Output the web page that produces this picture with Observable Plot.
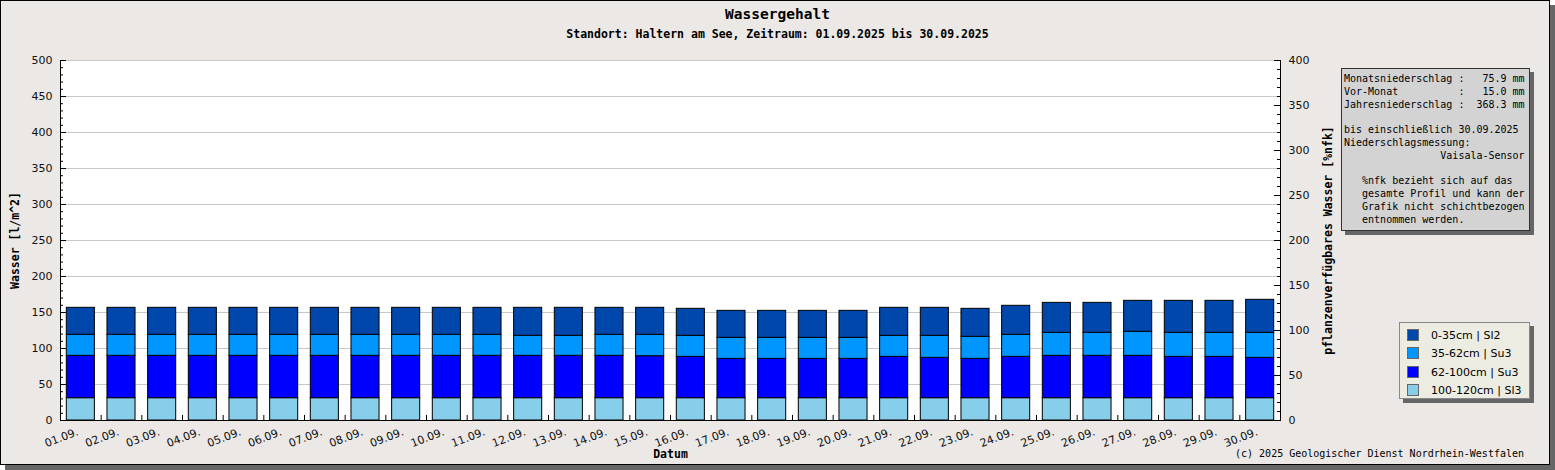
<!DOCTYPE html>
<html><head><meta charset="utf-8">
<script src="https://cdn.jsdelivr.net/npm/d3@7"></script>
<script src="https://cdn.jsdelivr.net/npm/@observablehq/plot@0.6"></script>
<style>
body{margin:0;background:#fff;}
#wrap{position:relative;width:1555px;height:470px;overflow:hidden;}
#bg{position:absolute;left:0;top:0;width:1548px;height:463px;border:1px solid #000;background:#ebe8e6;box-shadow:5px 5px 0 #666;}
#chart{position:absolute;left:0;top:0;}
.mono{font-family:"DejaVu Sans Mono",monospace;color:#000;position:absolute;white-space:pre;}
#title{left:0;width:1555px;text-align:center;top:6px;font-size:14.5px;font-weight:bold;}
#subtitle{left:0;width:1555px;text-align:center;top:27px;font-size:11.5px;font-weight:bold;}
#info{left:1341px;top:68px;background:#d3d3d3;border:1px solid #333;box-shadow:4px 4px 0 #666;font-size:10px;line-height:12.8px;padding:4px 0 0 2px;box-sizing:border-box;width:189px;height:163px;}
#legend{position:absolute;left:1399px;top:322px;width:131px;height:77px;background:#ecece2;border:1px solid #888;box-shadow:4px 4px 0 #666;box-sizing:border-box;}
.lrow{position:absolute;left:7px;height:14px;font-family:"DejaVu Sans",sans-serif;font-size:11px;color:#000;line-height:14px;}
.sw{display:inline-block;width:10px;height:10px;border:1px solid #666;vertical-align:-2px;margin-right:12px;}
#copy{right:31px;top:448px;font-size:10px;}
</style>
</head><body>
<div id="wrap">
  <div id="bg"></div>
  <div id="chart"></div>
  <div class="mono" id="title">Wassergehalt</div>
  <div class="mono" id="subtitle">Standort: Haltern am See, Zeitraum: 01.09.2025 bis 30.09.2025</div>
  <div class="mono" id="info"></div>
  <div id="legend"></div>
  <div class="mono" id="copy">(c) 2025 Geologischer Dienst Nordrhein-Westfalen</div>
</div>
<script>
// ---- data ----
const days = ["01.09.","02.09.","03.09.","04.09.","05.09.","06.09.","07.09.","08.09.","09.09.","10.09.",
  "11.09.","12.09.","13.09.","14.09.","15.09.","16.09.","17.09.","18.09.","19.09.","20.09.",
  "21.09.","22.09.","23.09.","24.09.","25.09.","26.09.","27.09.","28.09.","29.09.","30.09."];
// stacking order bottom -> top
const layers = ["100-120cm | Sl3","62-100cm | Su3","35-62cm | Su3","0-35cm | Sl2"];
const layerColors = ["#87ceeb","#0000ff","#0096ff","#0047ab"];
const legendOrder = ["0-35cm | Sl2","35-62cm | Su3","62-100cm | Su3","100-120cm | Sl3"];

const v100_120 = [31,31,31,31,31,31,31,31,31,31, 31,31,31,31,31,31,31,31,31,31, 31,31,31,31,31,31,31,31,31,31];
const v62_100 = [58.8,58.8,58.8,58.8,58.8,58.8,58.8,58.8,58.8,58.8, 58.8,58.8,58.8,58.8,58.3,57.4,54.6,54.6,54.6,54.6,
  57.4,56.0,54.6,57.4,58.8,58.8,58.8,57.4,57.4,56.0];
const v35_62 = [29.2,29.2,29.2,29.2,29.2,29.2,29.2,29.2,29.2,29.2, 29.2,27.8,27.8,29.2,29.7,29.2,29.2,29.2,29.2,29.2,
  29.2,30.6,30.6,30.6,32.0,32.0,33.4,33.4,33.4,34.8];
const v0_35 = [37.5,37.5,37.5,37.5,37.5,37.5,37.5,37.5,37.5,37.5, 37.5,38.9,38.9,37.5,37.5,37.5,37.5,37.5,37.5,37.5,
  38.9,38.9,38.9,40.3,41.6,41.6,43.0,44.4,44.4,45.8];

const leftTicks = [0,50,100,150,200,250,300,350,400,450,500];
const rightTicks = [0,50,100,150,200,250,300,350,400];
const leftMax = 500, rightMax = 400;

const infoLines = [
  "Monatsniederschlag :   75.9 mm",
  "Vor-Monat          :   15.0 mm",
  "Jahresniederschlag :  368.3 mm",
  "",
  "bis einschließlich 30.09.2025",
  "Niederschlagsmessung:",
  "                Vaisala-Sensor",
  "",
  "   %nfk bezieht sich auf das",
  "   gesamte Profil und kann der",
  "   Grafik nicht schichtbezogen",
  "   entnommen werden."
];

// ---- build ----
const series = [v100_120, v62_100, v35_62, v0_35];
const table = days.flatMap((d, i) => layers.map((l, j) => ({day: d, layer: l, value: series[j][i]})));

const W = 1555, H = 470, mL = 60, mR = 275, mT = 60, mB = 50;
const frameW = W - mL - mR;
const step = frameW / days.length;
const minorLeft = d3.range(0, leftMax + 1, 10);
const minorRight = d3.range(0, rightMax + 1, 10).map(v => v * leftMax / rightMax);
const rightPos = rightTicks.map(v => v * leftMax / rightMax);
const mono = "DejaVu Sans Mono";

const chart = Plot.plot({
  width: W, height: H,
  marginLeft: mL, marginRight: mR, marginTop: mT, marginBottom: mB,
  style: {background: "transparent", fontFamily: "DejaVu Sans", fontSize: "11px", color: "#111"},
  x: {domain: days, paddingInner: 0.31, paddingOuter: 0.155, round: false, axis: null},
  y: {domain: [0, leftMax], axis: null},
  color: {domain: layers, range: layerColors},
  marks: [
    Plot.frame({fill: "white", stroke: null}),
    Plot.gridY(leftTicks, {stroke: "#c8c8c8", strokeOpacity: 1}),
    Plot.barY(table, {x: "day", y: "value", fill: "layer", order: layers, stroke: "black", strokeWidth: 1}),
    Plot.ruleY([0], {stroke: "black"}),
    Plot.frame({anchor: "left", stroke: "black"}),
    Plot.frame({anchor: "right", stroke: "black"}),
    // left ticks (inward)
    Plot.ruleY(minorLeft, {insetRight: frameW - 3, stroke: "black"}),
    Plot.ruleY(leftTicks, {insetRight: frameW - 6, stroke: "black"}),
    // right ticks (inward)
    Plot.ruleY(minorRight, {insetLeft: frameW - 3, stroke: "black"}),
    Plot.ruleY(rightPos, {insetLeft: frameW - 6, stroke: "black"}),
    // x ticks at band boundaries
    Plot.ruleX(days.slice(0, -1), {x: d => d, dx: step / 2, y1: 0, y2: 7, stroke: "black"}),
    Plot.axisY(leftTicks, {anchor: "left", tickSize: 0, tickPadding: 8, label: null, fontSize: 11}),
    Plot.axisY(rightPos, {anchor: "right", tickSize: 0, tickPadding: 8, label: null, fontSize: 11,
      tickFormat: d => String(Math.round(d * rightMax / leftMax))}),
    Plot.text(days, {x: d => d, text: d => d, frameAnchor: "bottom", rotate: -21, textAnchor: "end",
      lineAnchor: "middle", dy: 11, dx: -3, fontSize: 11, fill: "#111"}),
    Plot.text(["Wasser [l/m^2]"], {frameAnchor: "left", dx: -45, rotate: -90, textAnchor: "middle",
      fontFamily: mono, fontWeight: "bold", fontSize: 11.5, fill: "#000"}),
    Plot.text(["pflanzenverfügbares Wasser [%nfk]"], {frameAnchor: "right", dx: 48, rotate: -90, textAnchor: "middle",
      fontFamily: mono, fontWeight: "bold", fontSize: 11.5, fill: "#000"}),
    Plot.text(["Datum"], {frameAnchor: "bottom", dy: 37, fontFamily: mono, fontWeight: "bold", fontSize: 11.5, fill: "#000"})
  ]
});
document.getElementById("chart").appendChild(chart);

document.getElementById("info").textContent = infoLines.join("\n");

const legend = document.getElementById("legend");
legendOrder.forEach((l, i) => {
  const row = document.createElement("div");
  row.className = "lrow";
  row.style.top = (6 + i * 18.3) + "px";
  const sw = document.createElement("span");
  sw.className = "sw";
  sw.style.background = layerColors[layers.indexOf(l)];
  row.appendChild(sw);
  row.appendChild(document.createTextNode(l));
  legend.appendChild(row);
});
</script>
</body></html>
